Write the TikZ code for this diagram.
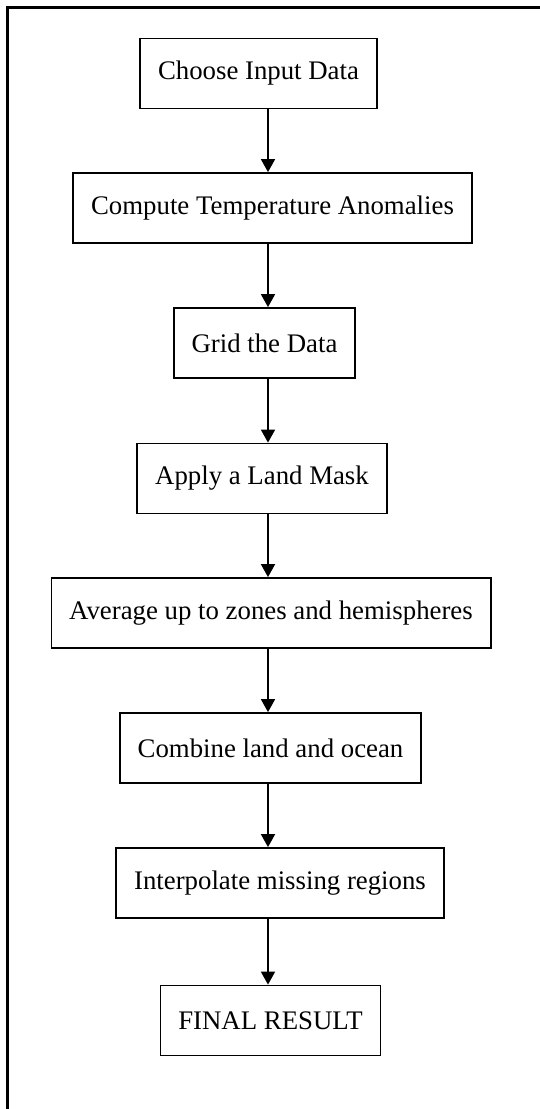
\documentclass[tikz,border=0pt]{standalone}
\usepackage{fontspec}
\setmainfont{Liberation Serif}
\usetikzlibrary{arrows.meta, positioning}

\begin{document}
\begin{tikzpicture}[x=0.5pt, y=-0.5pt,
    stepbox/.style={draw, line width=0.9pt, minimum height=35pt, inner xsep=8.9pt,
        font=\fontsize{13.4}{16}\selectfont},
    flow/.style={-{Triangle[width=7pt, length=6.5pt]}, line width=0.9pt}]
        \useasboundingbox (0,0) rectangle (540,1109);

        % Outer frame
        \draw[line width=1.5pt] (7,1109) -- (7,7) -- (540,7);

        % Steps
        \node[stepbox] (choose) at (258.5,73.5) {Choose Input Data};
        \node[stepbox] (anom) at (272.5,208) {Compute Temperature Anomalies};
        \node[stepbox] (grid) at (264.5,343) {Grid the Data};
        \node[stepbox] (mask) at (262,478.5) {Apply a Land Mask};
        \node[stepbox] (zones) at (271,613) {Average up to zones and hemispheres};
        \node[stepbox] (combine) at (270.5,748) {Combine land and ocean};
        \node[stepbox] (interp) at (280,883) {Interpolate missing regions};
        \node[stepbox] (final) at (270.5,1020.5) {FINAL RESULT};

        % Arrows
        \coordinate (spine) at (268,0);
        \draw[flow] (choose.south -| spine) -- (anom.north -| spine);
        \draw[flow] (anom.south -| spine) -- (grid.north -| spine);
        \draw[flow] (grid.south -| spine) -- (mask.north -| spine);
        \draw[flow] (mask.south -| spine) -- (zones.north -| spine);
        \draw[flow] (zones.south -| spine) -- (combine.north -| spine);
        \draw[flow] (combine.south -| spine) -- (interp.north -| spine);
        \draw[flow] (interp.south -| spine) -- (final.north -| spine);
    \end{tikzpicture}
\end{document}
